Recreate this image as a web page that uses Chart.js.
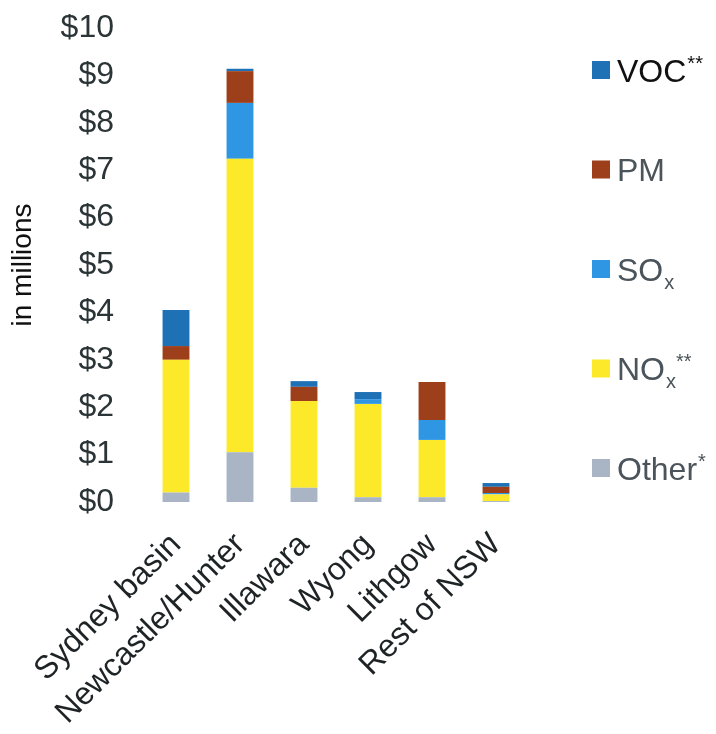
<!DOCTYPE html>
<html>
<head>
<meta charset="utf-8">
<script src="https://cdn.jsdelivr.net/npm/chart.js@4.4.1/dist/chart.umd.min.js"></script>
<style>
  html, body { margin: 0; padding: 0; background: #ffffff; }
  #wrap { width: 716px; height: 734px; }
</style>
</head>
<body>
<div id="wrap"><canvas id="c" width="716" height="734"></canvas></div>
<script>
// Regions and pollutant cost components, $ millions
const regions = ['Sydney basin', 'Newcastle/Hunter', 'Illawara', 'Wyong', 'Lithgow', 'Rest of NSW'];
const otherCost = [0.20, 1.05, 0.30, 0.10, 0.10, 0.02];
const noxCost   = [2.80, 6.19, 1.83, 1.97, 1.21, 0.14];
const soxCost   = [0.00, 1.18, 0.00, 0.10, 0.42, 0.03];
const pmCost    = [0.29, 0.67, 0.30, 0.00, 0.80, 0.13];
const vocCost   = [0.76, 0.05, 0.12, 0.15, 0.00, 0.08];
const yTickValues = [0, 1, 2, 3, 4, 5, 6, 7, 8, 9, 10];

const FONT = '"Liberation Sans", Arial, sans-serif';

// Stacked bottom to top
const datasets = [
  { label: 'Other*', data: otherCost, backgroundColor: '#a9b5c4' },
  { label: 'NOx**',  data: noxCost,   backgroundColor: '#fbe92a' },
  { label: 'SOx',    data: soxCost,   backgroundColor: '#2f96e4' },
  { label: 'PM',     data: pmCost,    backgroundColor: '#9e3f1c' },
  { label: 'VOC**',  data: vocCost,   backgroundColor: '#1f71b6' }
];

// Side legend with subscripts/superscripts, drawn top (VOC) to bottom (Other)
const sideLegend = {
  id: 'sideLegend',
  afterDraw(chart) {
    const ctx = chart.ctx;
    const area = chart.chartArea;
    const x0 = area.right + 64;
    const size = 32;
    const ds = chart.data.datasets.slice().reverse();
    ctx.save();
    ds.forEach((d, i) => {
      const yc = 70 + i * 99.5;
      ctx.fillStyle = d.backgroundColor;
      ctx.fillRect(x0, yc - 9, 18, 18);
      const m = d.label.match(/^([A-Za-z]+?)(x?)(\**)$/);
      let base = m[1], sub = m[2], sup = m[3];
      if (d.label === 'Other*') { base = 'Other'; sub = ''; sup = '*'; }
      let x = x0 + 25;
      ctx.fillStyle = d.label === 'VOC**' ? '#111111' : '#4b545a';
      ctx.textBaseline = 'alphabetic';
      ctx.textAlign = 'left';
      const baseY = yc + size * 0.36;
      ctx.font = size + 'px ' + FONT;
      ctx.fillText(base, x, baseY);
      x += ctx.measureText(base).width + 1;
      if (sub) {
        ctx.font = Math.round(size * 0.62) + 'px ' + FONT;
        ctx.fillText(sub, x, baseY + 8);
        x += ctx.measureText(sub).width;
      }
      if (sup) {
        ctx.font = Math.round(size * 0.62) + 'px ' + FONT;
        ctx.fillText(sup, x, baseY - 12);
      }
    });
    ctx.restore();
  }
};

new Chart(document.getElementById('c'), {
  type: 'bar',
  data: { labels: regions, datasets: datasets },
  options: {
    responsive: false,
    animation: false,
    devicePixelRatio: 1,
    layout: { padding: { top: 28, right: 188, left: 0, bottom: 0 } },
    datasets: { bar: { categoryPercentage: 1.0, barPercentage: 0.42, borderWidth: 0 } },
    plugins: { legend: { display: false }, tooltip: { enabled: false } },
    scales: {
      x: {
        stacked: true,
        grid: { display: false },
        border: { display: false },
        afterFit(scale) { scale.height = 232; scale.paddingLeft = 0; scale.paddingRight = 0; },
        ticks: {
          autoSkip: false,
          minRotation: 45,
          maxRotation: 45,
          padding: 16,
          color: '#1e2326',
          font: { family: FONT, size: 32 }
        }
      },
      y: {
        stacked: true,
        min: 0,
        max: 10,
        grid: { display: false },
        border: { display: false },
        afterBuildTicks(scale) { scale.ticks = yTickValues.map(v => ({ value: v })); },
        afterFit(scale) { scale.width = 144; scale.paddingTop = 0; scale.paddingBottom = 0; },
        ticks: {
          padding: 22,
          color: '#2b3436',
          font: { family: FONT, size: 32 },
          callback: v => '$' + v
        },
        title: {
          display: true,
          text: 'in millions',
          color: '#111111',
          font: { family: FONT, size: 28 },
          padding: { top: 6, bottom: 0 }
        }
      }
    }
  },
  plugins: [sideLegend]
});
</script>
</body>
</html>
